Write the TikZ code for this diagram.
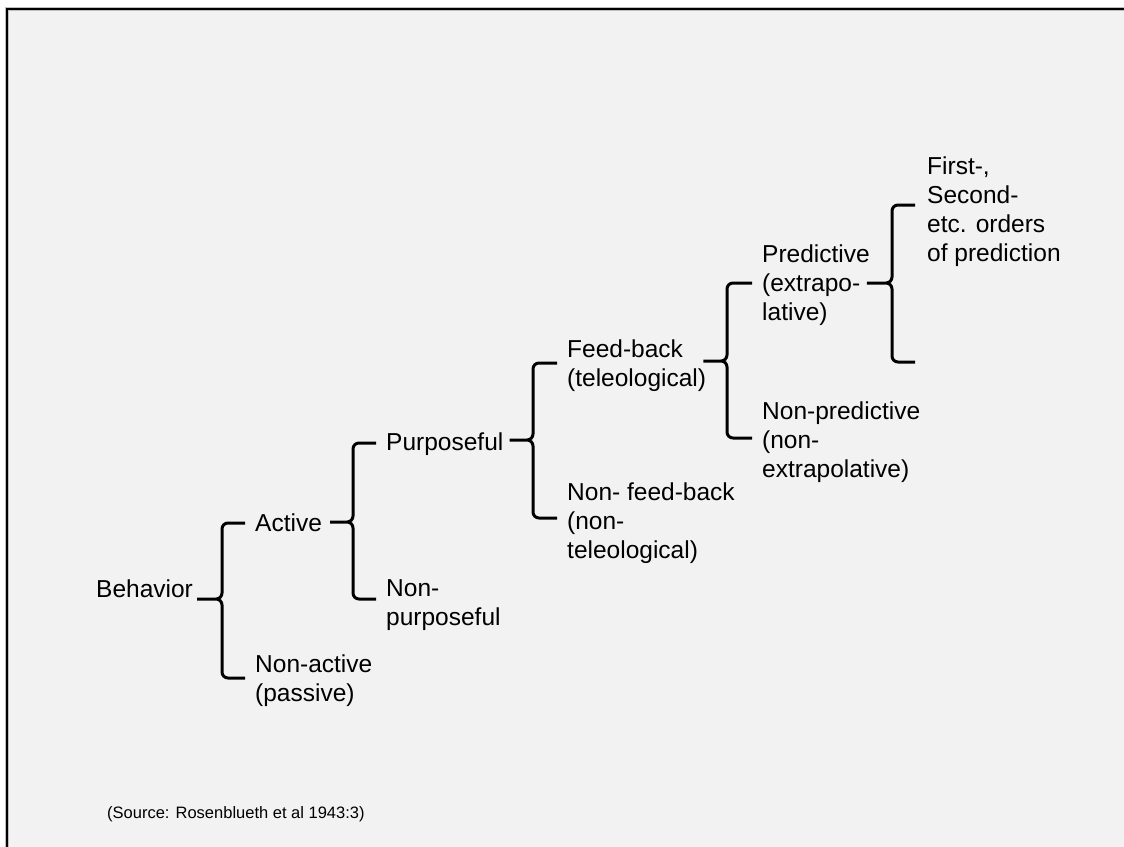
\documentclass[tikz,border=0pt]{standalone}
\usepackage{fontspec}
\setmainfont{Liberation Sans}
\definecolor{panel}{HTML}{F2F2F2}

\begin{document}
\begin{tikzpicture}[x=1pt, y=-1pt,
    term/.style={anchor=base west, inner sep=0pt, align=left, font=\fontsize{24.5}{28.8}\selectfont},
    brace/.style={line width=3pt, rounded corners=6pt}]
  % Frame
  \useasboundingbox (0,0) rectangle (1124,846);
  \fill[white] (0,0) rectangle (1124,846);
  \clip (0,0) rectangle (1124,846);
  \draw[gray!50, line width=4pt, fill=panel] (7,9) rectangle (1150,870);
  \draw[line width=1.6pt] (7,9) rectangle (1150,870);

  % Categories (multi-line nodes sit on their last baseline)
  \node[term] (behavior) at (96,597) {Behavior};
  \node[term] (active) at (255,531) {Active};
  \node[term] (nonactive) at (255,701) {Non-active\\(passive)};
  \node[term] (purposeful) at (386,450) {Purposeful};
  \node[term] (nonpurposeful) at (386,625) {Non-\\purposeful};
  \node[term] (feedback) at (567,386) {Feed-back\\(teleological)};
  \node[term] (nonfeedback) at (567,558) {Non- feed-back\\(non-\\teleological)};
  \node[term] (predictive) at (762,320) {Predictive\\(extrapo-\\lative)};
  \node[term] (nonpredictive) at (762,477) {Non-predictive\\(non-\\extrapolative)};
  \node[term] (orders) at (927,261) {First-,\\Second-\\etc. orders\\of prediction};

  % Braces
  \draw[brace] ([xshift=-10pt]active.west |- 0,523) -- (222,523) -- (222,599) -- ([xshift=4pt]behavior.east |- 0,599)
               ([xshift=4pt]behavior.east |- 0,599) -- (222,599) -- (222,678) -- ([xshift=-10pt]nonactive.west |- 0,678);
  \draw[brace] ([xshift=-10pt]purposeful.west |- 0,443) -- (353,443) -- (353,522) -- ([xshift=8pt]active.east |- 0,522)
               ([xshift=8pt]active.east |- 0,522) -- (353,522) -- (353,599) -- ([xshift=-10pt]nonpurposeful.west |- 0,599);
  \draw[brace] ([xshift=-10pt]feedback.west |- 0,363) -- (533,363) -- (533,440) -- ([xshift=6pt]purposeful.east |- 0,440)
               ([xshift=6pt]purposeful.east |- 0,440) -- (533,440) -- (533,518) -- ([xshift=-10pt]nonfeedback.west |- 0,518);
  \draw[brace] ([xshift=-10pt]predictive.west |- 0,283) -- (727,283) -- (727,361) -- ([xshift=-3pt]feedback.east |- 0,361)
               ([xshift=-3pt]feedback.east |- 0,361) -- (727,361) -- (727,438) -- ([xshift=-10pt]nonpredictive.west |- 0,438);
  \draw[brace] ([xshift=-12pt]orders.west |- 0,205) -- (892,205) -- (892,283) -- ([xshift=-3pt]predictive.east |- 0,283)
               ([xshift=-3pt]predictive.east |- 0,283) -- (892,283) -- (892,362) -- ([xshift=-12pt]orders.west |- 0,362);

  % Source
  \node[term, font=\fontsize{16.5}{20}\selectfont] (source) at (107,818) {(Source: Rosenblueth et al 1943:3)};
\end{tikzpicture}
\end{document}
